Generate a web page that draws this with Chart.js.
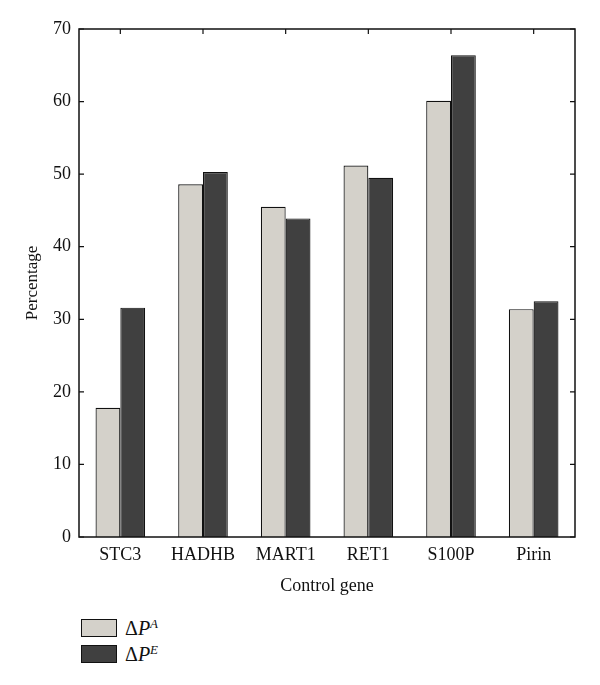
<!DOCTYPE html>
<html lang="en">
<head>
    <meta charset="UTF-8">
    <title>Control gene percentages</title>
    <script src="https://cdn.jsdelivr.net/npm/chart.js"></script>
    <style>
        body { margin: 0; background: #fff; font-family: "Liberation Serif", "DejaVu Serif", serif; }
        #wrap { position: relative; width: 600px; height: 685px; }
        #chartBox { position: absolute; left: 0; top: 0; width: 600px; height: 605px; }
        .legend { position: absolute; left: 81px; top: 615px; font-size: 20px; color: #111; }
        .legend .row { display: flex; align-items: center; height: 26px; }
        .legend .box { width: 34px; height: 16px; border: 1.5px solid #111; margin-right: 8px; }
        .legend i { font-style: italic; }
        .legend sup { font-size: 13px; font-style: italic; vertical-align: 7px; }
    </style>
</head>
<body>
<div id="wrap">
    <div id="chartBox"><canvas id="geneChart"></canvas></div>
    <div class="legend">
        <div class="row"><span class="box" style="background:#d4d1ca"></span><span>&Delta;<i>P</i><sup>A</sup></span></div>
        <div class="row"><span class="box" style="background:#404040"></span><span>&Delta;<i>P</i><sup>E</sup></span></div>
    </div>
</div>

<script>
    // data
    const genes = ['STC3', 'HADHB', 'MART1', 'RET1', 'S100P', 'Pirin'];
    const deltaA = [17.8, 48.6, 45.5, 51.2, 60.1, 31.4];
    const deltaE = [31.6, 50.3, 43.9, 49.5, 66.4, 32.5];
    const yTicks = [0, 10, 20, 30, 40, 50, 60, 70];

    const serif = '"Liberation Serif", "DejaVu Serif", serif';

    // box around the plot with inward ticks
    const frame = {
        id: 'frame',
        afterDraw(chart) {
            const ctx = chart.ctx;
            const a = chart.chartArea;
            const x = chart.scales.x, y = chart.scales.y;
            ctx.save();
            ctx.strokeStyle = '#111';
            ctx.lineWidth = 1.5;
            ctx.strokeRect(a.left, a.top, a.right - a.left, a.bottom - a.top);
            ctx.lineWidth = 1.2;
            ctx.beginPath();
            yTicks.forEach(v => {
                const py = y.getPixelForValue(v);
                ctx.moveTo(a.left, py); ctx.lineTo(a.left + 5, py);
                ctx.moveTo(a.right, py); ctx.lineTo(a.right - 5, py);
            });
            genes.forEach((g, i) => {
                const px = x.getPixelForValue(i);
                ctx.moveTo(px, a.top); ctx.lineTo(px, a.top + 5);
            });
            ctx.stroke();
            ctx.restore();
        }
    };

    new Chart(document.getElementById('geneChart'), {
        type: 'bar',
        data: {
            labels: genes,
            datasets: [
                { label: 'ΔPA', data: deltaA, backgroundColor: '#d4d1ca', borderColor: '#111', borderWidth: 1.2 },
                { label: 'ΔPE', data: deltaE, backgroundColor: '#404040', borderColor: '#111', borderWidth: 1.2 }
            ]
        },
        options: {
            responsive: true,
            maintainAspectRatio: false,
            animation: false,
            layout: { padding: { top: 29, right: 25, left: 0, bottom: 0 } },
            datasets: { bar: { categoryPercentage: 0.6, barPercentage: 1.0 } },
            plugins: { legend: { display: false }, tooltip: { enabled: false } },
            scales: {
                x: {
                    grid: { display: false, drawTicks: false },
                    border: { display: false },
                    ticks: { color: '#111', font: { family: serif, size: 18 }, padding: 7 },
                    title: { display: true, text: 'Control gene', color: '#111', font: { family: serif, size: 18 }, padding: { top: 0, bottom: 8 } },
                    afterFit(scale) { scale.height = 68; }
                },
                y: {
                    min: 0, max: 70,
                    afterBuildTicks(scale) { scale.ticks = yTicks.map(v => ({ value: v })); },
                    grid: { display: false, drawTicks: false },
                    border: { display: false },
                    ticks: { color: '#111', font: { family: serif, size: 18 }, padding: 8 },
                    title: { display: true, text: 'Percentage', color: '#111', font: { family: serif, size: 17 }, padding: { top: 22, bottom: 0 } },
                    afterFit(scale) { scale.width = 79; }
                }
            }
        },
        plugins: [frame]
    });
</script>
</body>
</html>
